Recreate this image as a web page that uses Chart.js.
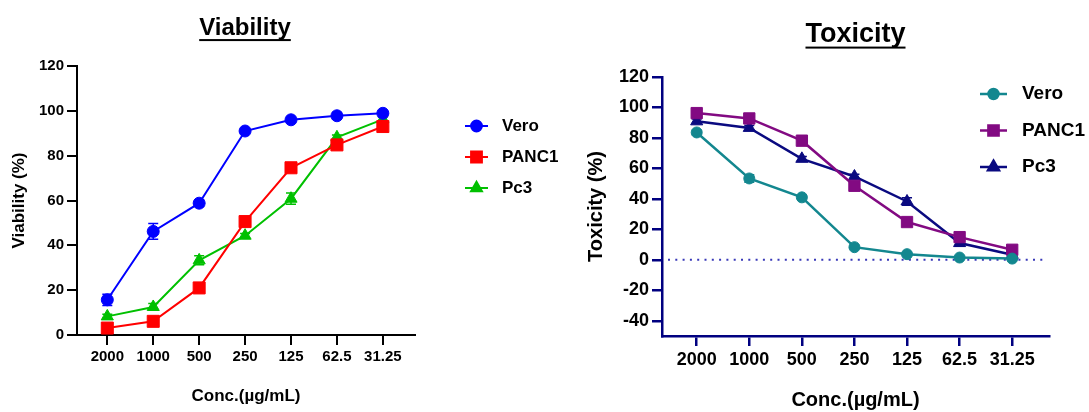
<!DOCTYPE html>
<html>
<head>
<meta charset="utf-8">
<script src="https://cdn.jsdelivr.net/npm/chart.js@4"></script>
<style>
  body { margin: 0; background: #fff; }
  #wrap { position: relative; width: 1089px; height: 412px; }
  .box { position: absolute; top: 0; }
</style>
</head>
<body>
<div id="wrap">
  <div class="box" style="left:0"><canvas id="viabilityChart" width="560" height="412"></canvas></div>
  <div class="box" style="left:560px"><canvas id="toxicityChart" width="529" height="412"></canvas></div>
</div>
<script>
// stężenia (etykiety osi X)
const concLabels = ['2000', '1000', '500', '250', '125', '62.5', '31.25'];

// Viability (%)
const viaVero = [15.7, 46.2, 58.8, 91.0, 96.0, 97.8, 98.9];
const viaPanc1 = [3.1, 6.1, 21.0, 50.6, 74.6, 84.8, 93.0];
const viaPc3 = [8.3, 12.5, 33.3, 44.3, 60.8, 88.2, 96.2];
const viaVeroErr = [2.5, 3.5, 1.5, 1, 1, 1.5, 1];
const viaPanc1Err = [1, 1, 1, 1, 1, 1, 1];
const viaPc3Err = [1, 1.5, 2, 1, 2.5, 1, 1];
const viaTicks = [0, 20, 40, 60, 80, 100, 120];

// Toxicity (%)
const toxVero = [83.6, 53.4, 41.0, 8.3, 3.7, 1.5, 0.8];
const toxPanc1 = [96.3, 92.8, 78.2, 48.6, 24.8, 14.9, 6.6];
const toxPc3 = [90.9, 86.6, 66.3, 54.7, 38.3, 11.0, 3.3];
const toxVeroErr = [1.5, 2.5, 1, 1, 1, 1, 0.5];
const toxPanc1Err = [1, 1, 1, 1, 1, 1, 1];
const toxPc3Err = [1.5, 1.5, 1.5, 1.5, 2.5, 2, 1];
const toxTicks = [-40, -20, 0, 20, 40, 60, 80, 100, 120];

Chart.defaults.font.family = '"Liberation Sans", Arial, sans-serif';
Chart.defaults.font.weight = 'bold';
Chart.defaults.color = '#000';

const toPoints = (arr) => arr.map((v, i) => ({ x: i, y: v }));

function makeSet(label, values, errors, color, style, radius, width) {
    return {
        label: label,
        data: toPoints(values),
        errors: errors,
        borderColor: color,
        backgroundColor: color,
        borderWidth: width,
        pointStyle: style,
        pointRadius: radius,
        pointHoverRadius: radius,
        pointBorderWidth: 1,
        clip: false,
        tension: 0
    };
}

// słupki błędów, tytuł z podkreśleniem, legenda i linia zera
const extrasPlugin = {
    id: 'extras',
    beforeDatasetsDraw(chart) {
        const ctx = chart.ctx;
        const xs = chart.scales.x, ys = chart.scales.y;
        chart.data.datasets.forEach((ds) => {
            ctx.save();
            ctx.strokeStyle = ds.borderColor;
            ctx.lineWidth = 1.5;
            ds.data.forEach((p, i) => {
                const e = ds.errors[i];
                const px = xs.getPixelForValue(p.x);
                const top = ys.getPixelForValue(p.y + e);
                const bot = ys.getPixelForValue(p.y - e);
                ctx.beginPath();
                ctx.moveTo(px, top); ctx.lineTo(px, bot);
                ctx.moveTo(px - 5, top); ctx.lineTo(px + 5, top);
                ctx.moveTo(px - 5, bot); ctx.lineTo(px + 5, bot);
                ctx.stroke();
            });
            ctx.restore();
        });
        const o = chart.options.plugins.extras;
        if (o.zeroLine) {
            const y0 = ys.getPixelForValue(0);
            ctx.save();
            ctx.strokeStyle = o.zeroLine;
            ctx.lineWidth = 2;
            ctx.setLineDash([2, 5.3]);
            ctx.beginPath();
            ctx.moveTo(chart.chartArea.left + 6, y0);
            ctx.lineTo(chart.chartArea.right - 6, y0);
            ctx.stroke();
            ctx.restore();
        }
    },
    afterDraw(chart) {
        const ctx = chart.ctx;
        const o = chart.options.plugins.extras;
        const area = chart.chartArea;
        // tytuł
        ctx.save();
        ctx.font = 'bold ' + o.titleSize + 'px "Liberation Sans", Arial, sans-serif';
        ctx.fillStyle = '#000';
        ctx.textAlign = 'center';
        ctx.textBaseline = 'alphabetic';
        const cx = (area.left + area.right) / 2 + o.titleShift;
        ctx.fillText(o.title, cx, o.titleY);
        const w = ctx.measureText(o.title).width;
        ctx.fillRect(cx - w / 2, o.titleY + o.titleSize * 0.17, w, 2);
        ctx.restore();
        // legenda
        chart.data.datasets.forEach((ds, i) => {
            const y = o.legendY + i * o.legendGap;
            const x0 = area.right + o.legendX;
            ctx.save();
            ctx.strokeStyle = ds.borderColor;
            ctx.lineWidth = ds.borderWidth;
            ctx.beginPath();
            ctx.moveTo(x0, y); ctx.lineTo(x0 + o.legendLine, y);
            ctx.stroke();
            ctx.fillStyle = ds.backgroundColor;
            Chart.helpers.drawPoint(ctx, {
                pointStyle: ds.pointStyle,
                radius: ds.pointRadius * 0.9,
                rotation: 0,
                borderWidth: 1
            }, x0 + o.legendLine / 2, y);
            ctx.fillStyle = '#000';
            ctx.font = 'bold ' + o.legendSize + 'px "Liberation Sans", Arial, sans-serif';
            ctx.textBaseline = 'middle';
            ctx.fillText(ds.label, x0 + o.legendLine + o.legendText, y);
            ctx.restore();
        });
    }
};

function makeOptions(cfg) {
    return {
        responsive: false,
        animation: false,
        events: [],
        layout: { padding: { left: 0, top: cfg.padTop, right: cfg.padRight, bottom: 0 } },
        plugins: {
            legend: { display: false },
            tooltip: { enabled: false },
            extras: cfg.extras
        },
        scales: {
            x: {
                type: 'linear',
                min: -0.66,
                max: 6.7,
                afterBuildTicks: (axis) => { axis.ticks = concLabels.map((_, i) => ({ value: i })); },
                afterFit: (axis) => { axis.height = cfg.xHeight; },
                ticks: {
                    callback: (v) => concLabels[v],
                    font: { size: cfg.tickSize, weight: 'bold' },
                    color: '#000',
                    padding: 3,
                    maxRotation: 0,
                    autoSkip: false
                },
                grid: { drawOnChartArea: false, drawTicks: true, tickLength: 10, color: cfg.axisColor, lineWidth: cfg.axisWidth },
                border: { color: cfg.axisColor, width: cfg.axisWidth },
                title: {
                    display: true,
                    text: 'Conc.(µg/mL)',
                    font: { size: cfg.xTitleSize, weight: 'bold' },
                    color: '#000',
                    padding: { top: 0, bottom: cfg.xTitlePad }
                }
            },
            y: {
                min: cfg.yMin,
                max: cfg.yMax,
                afterBuildTicks: (axis) => { axis.ticks = cfg.yTicks.map((v) => ({ value: v })); },
                afterFit: (axis) => { axis.width = cfg.yWidth; },
                ticks: {
                    font: { size: cfg.tickSize, weight: 'bold' },
                    color: '#000',
                    padding: 3
                },
                grid: { drawOnChartArea: false, drawTicks: true, tickLength: 10, color: cfg.axisColor, lineWidth: cfg.axisWidth },
                border: { color: cfg.axisColor, width: cfg.axisWidth },
                title: {
                    display: true,
                    text: cfg.yTitle,
                    font: { size: cfg.yTitleSize, weight: 'bold' },
                    color: '#000',
                    padding: { top: cfg.yTitlePad, bottom: 0 }
                }
            }
        }
    };
}

// wykres Viability
new Chart(document.getElementById('viabilityChart').getContext('2d'), {
    type: 'line',
    data: {
        datasets: [
            makeSet('Vero', viaVero, viaVeroErr, '#0000ff', 'circle', 6, 2),
            makeSet('PANC1', viaPanc1, viaPanc1Err, '#ff0000', 'rect', 8.5, 2),
            makeSet('Pc3', viaPc3, viaPc3Err, '#00c000', 'triangle', 7, 2)
        ]
    },
    options: makeOptions({
        padTop: 66, padRight: 145, xHeight: 77, yWidth: 77,
        yMin: 0, yMax: 120, yTicks: viaTicks, yTitle: 'Viability (%)',
        tickSize: 15, xTitleSize: 17, xTitlePad: 5, yTitleSize: 17, yTitlePad: 9,
        axisColor: '#000', axisWidth: 2,
        extras: {
            title: 'Viability', titleSize: 24, titleY: 35, titleShift: -1,
            legendX: 50, legendY: 126, legendGap: 31, legendLine: 23, legendText: 14, legendSize: 17
        }
    }),
    plugins: [extrasPlugin]
});

// wykres Toxicity
new Chart(document.getElementById('toxicityChart').getContext('2d'), {
    type: 'line',
    data: {
        datasets: [
            makeSet('Vero', toxVero, toxVeroErr, '#13878f', 'circle', 5.5, 2.5),
            makeSet('PANC1', toxPanc1, toxPanc1Err, '#820a82', 'rect', 8, 2.5),
            makeSet('Pc3', toxPc3, toxPc3Err, '#0a0a80', 'triangle', 7, 2.5)
        ]
    },
    options: makeOptions({
        padTop: 77, padRight: 40, xHeight: 76, yWidth: 102,
        yMin: -50, yMax: 120, yTicks: toxTicks, yTitle: 'Toxicity (%)',
        tickSize: 18, xTitleSize: 20, xTitlePad: 0, yTitleSize: 20, yTitlePad: 24,
        axisColor: '#000080', axisWidth: 2.5,
        extras: {
            title: 'Toxicity', titleSize: 27, titleY: 42, titleShift: 0,
            zeroLine: '#3838b8',
            legendX: -69, legendY: 94, legendGap: 36.5, legendLine: 27, legendText: 15, legendSize: 19
        }
    }),
    plugins: [extrasPlugin]
});
</script>
</body>
</html>
